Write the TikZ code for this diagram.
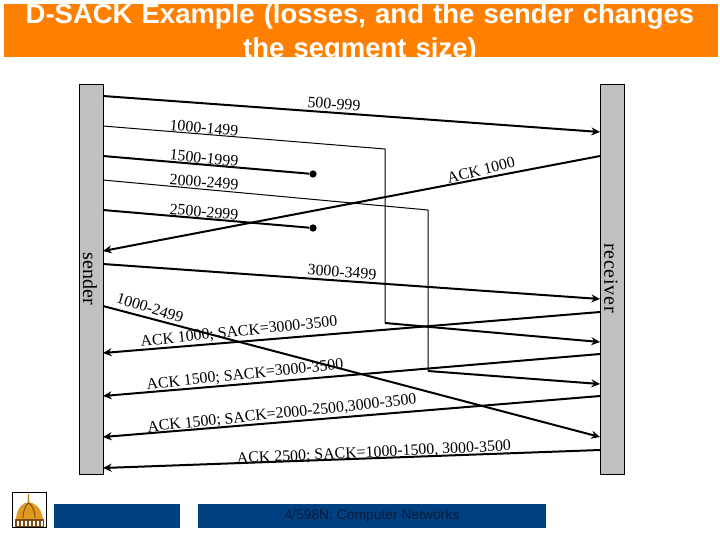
\documentclass[tikz,border=0pt]{standalone}
\usepackage{fontspec}
\setmainfont{Liberation Serif}
\setsansfont{Liberation Sans}
\usetikzlibrary{arrows.meta, positioning, calc}
\definecolor{bandorange}{HTML}{FF8000}
\definecolor{barblue}{HTML}{004080}
\definecolor{bargray}{HTML}{C0C0C0}
\definecolor{footink}{HTML}{0A1A3A}
\definecolor{domegold}{HTML}{E09A20}
\definecolor{domedark}{HTML}{7A4A10}

\begin{document}
\begin{tikzpicture}[
    x=0.75pt, y=-0.75pt,
    hostbar/.style={
        draw=black, fill=bargray, line width=0.5pt,
        minimum width=18pt, minimum height=292.5pt, inner sep=0pt
    },
    footbar/.style={
        fill=barblue, minimum height=18pt, inner sep=0pt
    },
    hostlabel/.style={font=\fontsize{15}{16}\selectfont, rotate=-90, inner sep=0pt},
    seglabel/.style={font=\fontsize{11.9}{13}\selectfont, inner sep=0pt},
    sendarrow/.style={-{Stealth[length=6.5pt, width=6pt]}, line width=1.5pt},
    lostline/.style={line width=1.5pt},
    thinline/.style={line width=0.75pt},
    dropdot/.style={circle, fill=black, minimum size=5.5pt, inner sep=0pt},
    >=Stealth
]
\useasboundingbox (0,0) rectangle (720,540);

% --- Title band ---
\begin{scope}
    \clip (4,4) rectangle (718,57);
    \fill[bandorange] (4,4) rectangle (718,57);
    \node[font=\sffamily\bfseries\fontsize{20.6}{25.5}\selectfont, text=white, text width=530pt, align=center, inner sep=0pt] (title) at (360,33) {%
        D-SACK Example (losses, and the sender changes\\
        the segment size)%
    };
\end{scope}

% --- Host bars ---
\node[hostbar] (sbar) at (91,279) {};
\node[hostbar] (rbar) at (612,279) {};
\node[hostlabel] (slabel) at (90,279) {sender};
\node[hostlabel] (rlabel) at (611,278) {\addfontfeature{LetterSpace=4}receiver};

% --- Ends on the sender bar ---
\foreach \n/\y in {a/96, b/126, c/156, d/180, e/210, f/251, g/264, h/306, i/353, j/396, k/437, l/468} {
    \coordinate (s\n) at (103,\y);
}
% --- Ends on the receiver bar ---
\foreach \n/\y in {a/132, b/342, d/384, f/156, g/299, h/437, i/312, j/354, k/396, l/450} {
    \coordinate (r\n) at (600,\y);
}

% --- Bends and drops ---
\coordinate (b1) at (385,149);
\coordinate (b2) at (385,323);
\coordinate (d1) at (428,210);
\coordinate (d2) at (428,371);
\node[dropdot] (dropc) at (313,174) {};
\node[dropdot] (drope) at (313,228) {};

% --- Data segments ---
\foreach \n in {a, g, h} {
    \draw[sendarrow] (s\n) -- (r\n);
}
\draw[lostline] (sc) -- (dropc);
\draw[lostline] (se) -- (drope);
\draw[thinline] (sb) -- (b1) -- (b2);
\draw[sendarrow] (b2) -- (rb);
\draw[thinline] (sd) -- (d1) -- (d2);
\draw[sendarrow] (d2) -- (rd);

% --- Acks ---
\foreach \n in {f, i, j, k, l} {
    \draw[sendarrow] (r\n) -- (s\n);
}

% --- Labels ---
\node[seglabel, rotate=-4] (l500) at (334,104) {500-999};
\node[seglabel, rotate=-5] (l1000) at (204,128) {1000-1499};
\node[seglabel, rotate=-6] (l1500) at (204,158) {1500-1999};
\node[seglabel, rotate=-4] (l2000) at (204,182) {2000-2499};
\node[seglabel, rotate=-5] (l2500) at (204,212) {2500-2999};
\node[seglabel, rotate=14] (lack) at (481,170) {ACK 1000};
\node[seglabel, rotate=-4] (l3000) at (342,272) {3000-3499};
\node[seglabel, rotate=-17] (lre) at (150,308) {1000-2499};
\node[seglabel, rotate=6] (lacka) at (239,332) {ACK 1000; SACK=3000-3500};
\node[seglabel, rotate=6] (lackb) at (245,375) {ACK 1500; SACK=3000-3500};
\node[seglabel, rotate=6] (lackc) at (282,414) {ACK 1500; SACK=2000-2500,3000-3500};
\node[seglabel, rotate=2.7] (lackd) at (374,453) {ACK 2500; SACK=1000-1500, 3000-3500};

% --- Footer ---
\node[footbar, minimum width=94.5pt] (footl) at (117,516) {};
\node[footbar, minimum width=261pt, font=\sffamily\fontsize{10.4}{11}\selectfont, text=footink] (footr) at (372,516) {4/598N: Computer Networks};

% --- Dome ---
\node[draw=black, fill=white, line width=0.6pt, minimum width=25.5pt, minimum height=26.5pt, inner sep=0pt] (logo) at (29.5,510) {};
\fill[domegold] (16,519) .. controls (17,507) and (23,503) .. (28.5,502) .. controls (35,503) and (41,507) .. (43,519) -- cycle;
\draw[domedark, line width=0.7pt] (23,518) .. controls (23,510) and (26,505) .. (28.5,503) (35,518) .. controls (35,510) and (32,505) .. (28.5,503);
\fill[domegold!85!black] (27.5,502) -- (28,494) -- (29,494) -- (29.5,502) -- cycle;
\fill[domedark] (15,519) rectangle (44,526.5);
\foreach \x in {17, 21, 25, 29, 33, 37, 41} {
    \fill[white] (\x,521) rectangle ++(1.6,5);
}

\end{tikzpicture}
\end{document}
